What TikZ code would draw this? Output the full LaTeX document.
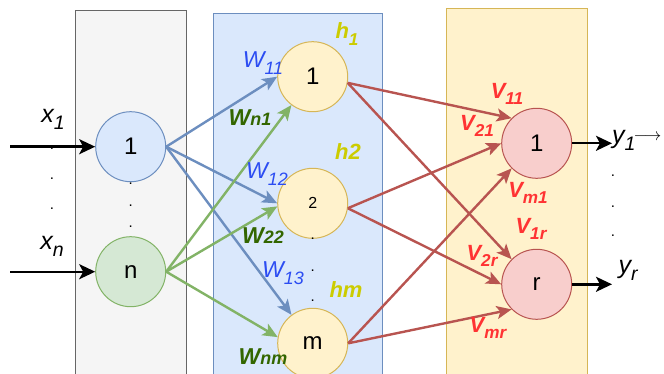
\documentclass[tikz,border=0pt]{standalone}
\usepackage{fontspec}
\usepackage{graphicx}
\setmainfont{Liberation Sans}
\usetikzlibrary{arrows.meta}
\definecolor{grayfill}{HTML}{F5F5F5}
\definecolor{graydraw}{HTML}{666666}
\definecolor{bluefill}{HTML}{DAE8FC}
\definecolor{bluedraw}{HTML}{6C8EBF}
\definecolor{greenfill}{HTML}{D5E8D4}
\definecolor{greendraw}{HTML}{82B366}
\definecolor{yellowfill}{HTML}{FFF2CC}
\definecolor{yellowdraw}{HTML}{D6B656}
\definecolor{redfill}{HTML}{F8CECC}
\definecolor{reddraw}{HTML}{B85450}
\definecolor{wblue}{HTML}{2B4CF2}
\definecolor{wgreen}{HTML}{336600}
\definecolor{hyellow}{HTML}{CCCC00}
\definecolor{vred}{HTML}{FF3333}
\newcommand{\sbs}[1]{\raisebox{-0.28em}{\scalebox{0.78}{#1}}}
\newcommand{\smp}[1]{\scalebox{0.78}{#1}}
\tikzset{
  layerbox/.style={line width=1pt},
  neuron/.style={circle, minimum size=70pt, inner sep=0pt, line width=1pt, font=\fontsize{24}{24}\selectfont},
  inarrow/.style={line width=2.4pt, -{Stealth[length=16pt,width=15pt,inset=4pt]}},
  edgearrow/.style={line width=2.4pt, -{Stealth[length=15pt,width=13pt,inset=3.5pt]}},
  bedge/.style={edgearrow, draw=bluedraw},
  gedge/.style={edgearrow, draw=greendraw},
  redge/.style={edgearrow, draw=reddraw},
  wlab/.style={text=wblue, font=\fontsize{23}{23}\selectfont\itshape, inner sep=0pt},
  wglab/.style={text=wgreen, font=\fontsize{23}{23}\selectfont\bfseries\itshape, inner sep=0pt},
  hlab/.style={text=hyellow, font=\fontsize{22}{22}\selectfont\bfseries\itshape, inner sep=0pt},
  vlab/.style={text=vred, font=\fontsize{22}{22}\selectfont\bfseries\itshape, inner sep=0pt},
  xlab/.style={font=\fontsize{25}{25}\selectfont\itshape, inner sep=0pt},
  dotlab/.style={font=\fontsize{15}{15}\selectfont, inner sep=0pt},
}
\begin{document}
\begin{tikzpicture}[x=1pt,y=-1pt]
\useasboundingbox (0,0) rectangle (664,374);
\clip (0,0) rectangle (664,374);
% layer boxes
\draw[layerbox, fill=grayfill, draw=graydraw] (75,11) rectangle (186.5,390);
\draw[layerbox, fill=bluefill, draw=bluedraw] (213.5,14) rectangle (382,390);
\draw[layerbox, fill=yellowfill, draw=yellowdraw] (446,9) rectangle (587,390);
% neurons
\node[neuron, fill=bluefill, draw=bluedraw] (i1) at (130.7,146.7) {1};
\node[neuron, fill=greenfill, draw=greendraw] (in) at (130.7,271.7) {n};
\node[neuron, fill=yellowfill, draw=yellowdraw] (h1) at (312.7,76.7) {1};
\node[neuron, fill=yellowfill, draw=yellowdraw, font=\fontsize{16}{16}\selectfont] (h2) at (312.7,203.3) {2};
\node[neuron, fill=yellowfill, draw=yellowdraw] (hm) at (312.7,343.3) {m};
\node[neuron, fill=redfill, draw=reddraw] (o1) at (536.7,143.3) {1};
\node[neuron, fill=redfill, draw=reddraw] (or) at (536.7,284.3) {r};
% inputs
\coordinate (x1s) at (10,146.7);
\coordinate (xns) at (10,271.7);
\draw[inarrow] (x1s) -- (i1.west);
\draw[inarrow] (xns) -- (in.west);
\node[xlab] (x1) at (53,119) {x\sbs{1}};
\node[xlab] (xn) at (52,246) {x\sbs{n}};
\node[dotlab] (d1) at (52,149) {.};
\node[dotlab] (d2) at (52,179) {.};
\node[dotlab] (d3) at (52,209) {.};
\node[dotlab] (d4) at (130.7,184) {.};
\node[dotlab] (d5) at (130.7,205.5) {.};
\node[dotlab] (d6) at (130.7,227) {.};
% outputs
\coordinate (y1e) at (612,143.3);
\coordinate (yre) at (612,284.3);
\draw[inarrow] (o1.east) -- (y1e);
\draw[inarrow] (or.east) -- (yre);
\node[xlab, anchor=west] (y1) at (612,140) {y\sbs{1}\hspace{-2pt}\raisebox{3pt}{\fontsize{18}{18}\selectfont$\longrightarrow$}};
\node[xlab] (yr) at (628,270) {y\sbs{r}};
\node[dotlab] (d7) at (613,176) {.};
\node[dotlab] (d8) at (613,207) {.};
\node[dotlab] (d9) at (613,236) {.};
% hidden dots
\node[dotlab] (d10) at (312.7,239) {.};
\node[dotlab] (d11) at (312.7,270.5) {.};
\node[dotlab] (d12) at (312.7,300.5) {.};
% input -> hidden
\draw[bedge] (i1.east) -- (h1.west);
\draw[bedge] (i1.east) -- (h2.west);
\draw[bedge] (i1.east) -- (hm);
\draw[gedge] (in.east) -- (h1);
\draw[gedge] (in.east) -- (h2.185);
\draw[gedge] (in.east) -- (hm.170);
% hidden -> output
\draw[redge] (h1.-10) -- (o1.135);
\draw[redge] (h1.-10) -- (or.135);
\draw[redge] (h2.-8) -- (o1.west);
\draw[redge] (h2.-8) -- (or.west);
\draw[redge] (hm.east) -- (o1.225);
\draw[redge] (hm.east) -- (or.225);
% weight labels
\node[wlab] (w11) at (263,63) {W\sbs{11}};
\node[wlab] (w12) at (267,174) {W\sbs{12}};
\node[wlab] (w13) at (283,273) {W\sbs{13}};
\node[wglab] (wn1) at (250,118) {W\smp{n1}};
\node[wglab] (w22) at (263,236) {W\smp{22}};
\node[wglab] (wnm) at (263,357) {W\smp{nm}};
% hidden labels
\node[hlab] (lh1) at (347,34) {h\sbs{1}};
\node[hlab] (lh2) at (348,152) {h2};
\node[hlab] (lhm) at (346,290) {hm};
% output weight labels
\node[vlab] (v11) at (507,94) {V\sbs{11}};
\node[vlab] (v21) at (477,126) {V\sbs{21}};
\node[vlab] (vm1) at (528,193) {V\sbs{m1}};
\node[vlab] (v1r) at (531,229) {V\sbs{1r}};
\node[vlab] (v2r) at (482,256) {V\sbs{2r}};
\node[vlab] (vmr) at (488,328) {V\sbs{mr}};
\end{tikzpicture}
\end{document}
